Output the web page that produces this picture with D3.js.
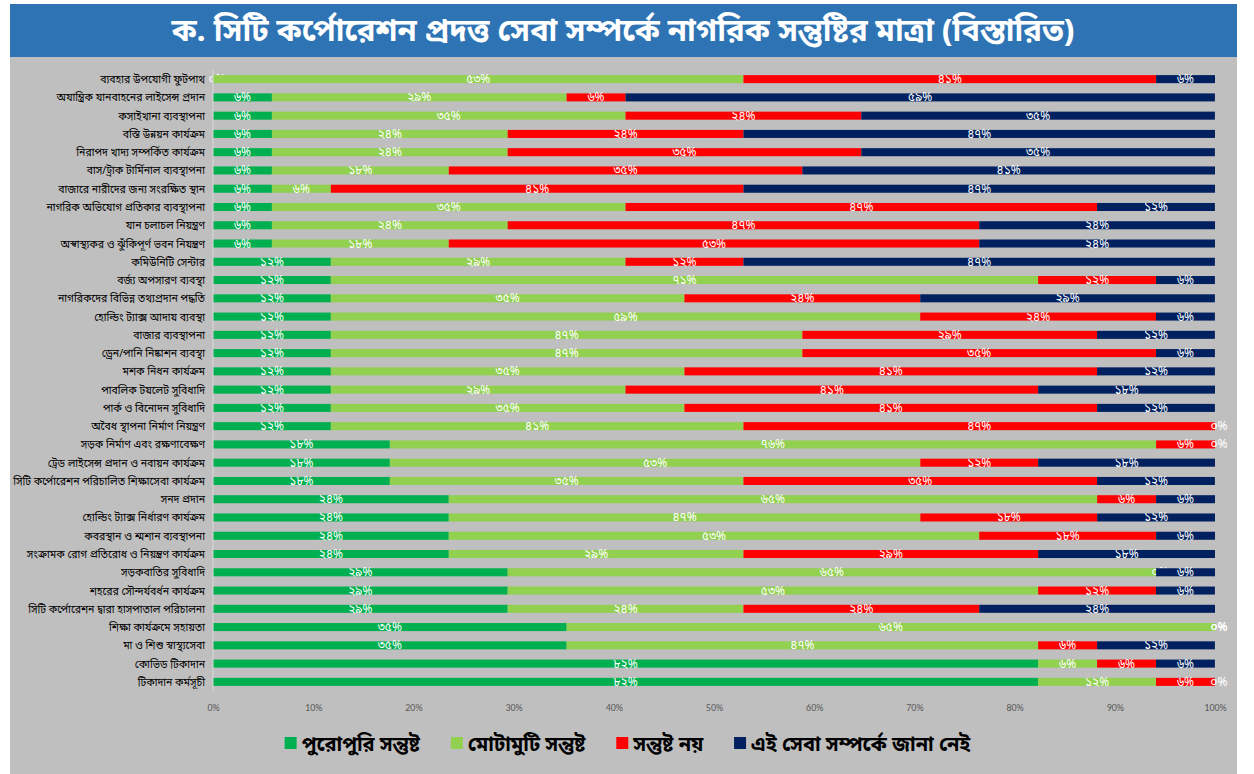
<!DOCTYPE html>
<html>
<head>
<meta charset="utf-8">
<script src="https://cdn.jsdelivr.net/npm/d3@7"></script>
<style>
  body { margin: 0; background: #ffffff; }
  svg text { font-family: "Noto Sans Bengali", "Lohit Bengali", "Vrinda", "Nirmala UI", "Noto Sans", sans-serif; }
</style>
</head>
<body>
<div id="chart"></div>
<script>
// সেবার নাম (উপর থেকে নিচে)
const categories = [
  "ব্যবহার উপযোগী ফুটপাথ",
  "অযান্ত্রিক যানবাহনের লাইসেন্স প্রদান",
  "কসাইখানা ব্যবস্থাপনা",
  "বস্তি উন্নয়ন কার্যক্রম",
  "নিরাপদ খাদ্য সম্পর্কিত কার্যক্রম",
  "বাস/ট্রাক টার্মিনাল ব্যবস্থাপনা",
  "বাজারে নারীদের জন্য সংরক্ষিত স্থান",
  "নাগরিক অভিযোগ প্রতিকার ব্যবস্থাপনা",
  "যান চলাচল নিয়ন্ত্রণ",
  "অস্বাস্থ্যকর ও ঝুঁকিপূর্ণ ভবন নিয়ন্ত্রণ",
  "কমিউনিটি সেন্টার",
  "বর্জ্য অপসারণ ব্যবস্থা",
  "নাগরিকদের বিভিন্ন তথ্যপ্রদান পদ্ধতি",
  "হোল্ডিং ট্যাক্স আদায় ব্যবস্থা",
  "বাজার ব্যবস্থাপনা",
  "ড্রেন/পানি নিষ্কাশন ব্যবস্থা",
  "মশক নিধন কার্যক্রম",
  "পাবলিক টয়লেট সুবিধাদি",
  "পার্ক ও বিনোদন সুবিধাদি",
  "অবৈধ স্থাপনা নির্মাণ নিয়ন্ত্রণ",
  "সড়ক নির্মাণ এবং রক্ষণাবেক্ষণ",
  "ট্রেড লাইসেন্স প্রদান ও নবায়ন কার্যক্রম",
  "সিটি কর্পোরেশন পরিচালিত শিক্ষাসেবা কার্যক্রম",
  "সনদ প্রদান",
  "হোল্ডিং ট্যাক্স নির্ধারণ কার্যক্রম",
  "কবরস্থান ও শ্মশান ব্যবস্থাপনা",
  "সংক্রামক রোগ প্রতিরোধ ও নিয়ন্ত্রণ কার্যক্রম",
  "সড়কবাতির সুবিধাদি",
  "শহরের সৌন্দর্যবর্ধন কার্যক্রম",
  "সিটি কর্পোরেশন দ্বারা হাসপাতাল পরিচালনা",
  "শিক্ষা কার্যক্রমে সহায়তা",
  "মা ও শিশু স্বাস্থ্যসেবা",
  "কোভিড টিকাদান",
  "টিকাদান কর্মসূচী"
];

// সিরিজের নাম
const seriesNames = ["পুরোপুরি সন্তুষ্ট", "মোটামুটি সন্তুষ্ট", "সন্তুষ্ট নয়", "এই সেবা সম্পর্কে জানা নেই"];

// শতাংশ মান
const fullySatisfied = [0, 5.88, 5.88, 5.88, 5.88, 5.88, 5.88, 5.88, 5.88, 5.88,
  11.76, 11.76, 11.76, 11.76, 11.76, 11.76, 11.76, 11.76, 11.76, 11.76,
  17.65, 17.65, 17.65, 23.53, 23.53, 23.53, 23.53, 29.41, 29.41, 29.41,
  35.29, 35.29, 82.35, 82.35];
const mostlySatisfied = [52.94, 29.41, 35.29, 23.53, 23.53, 17.65, 5.88, 35.29, 23.53, 17.65,
  29.41, 70.59, 35.29, 58.82, 47.06, 47.06, 35.29, 29.41, 35.29, 41.18,
  76.47, 52.94, 35.29, 64.71, 47.06, 52.94, 29.41, 64.71, 52.94, 23.53,
  64.71, 47.06, 5.88, 11.76];
const notSatisfied = [41.18, 5.88, 23.53, 23.53, 35.29, 35.29, 41.18, 47.06, 47.06, 52.94,
  11.76, 11.76, 23.53, 23.53, 29.41, 35.29, 41.18, 41.18, 41.18, 47.06,
  5.88, 11.76, 35.29, 5.88, 17.65, 17.65, 29.41, 0, 11.76, 23.53,
  0, 5.88, 5.88, 5.88];
const notAware = [5.88, 58.82, 35.29, 47.06, 35.29, 41.18, 47.06, 11.76, 23.53, 23.53,
  47.06, 5.88, 29.41, 5.88, 11.76, 5.88, 11.76, 17.65, 11.76, 0,
  0, 17.65, 11.76, 5.88, 11.76, 5.88, 17.65, 5.88, 5.88, 23.53,
  0, 11.76, 5.88, 0];

const tickValues = [0, 10, 20, 30, 40, 50, 60, 70, 80, 90, 100];
const colors = ["#00b050", "#92d050", "#ff0000", "#002060"];
const titleText = "ক. সিটি কর্পোরেশন প্রদত্ত সেবা সম্পর্কে নাগরিক সন্তুষ্টির মাত্রা (বিস্তারিত)";

const W = 1254, H = 774;
const keys = ["s0", "s1", "s2", "s3"];
const rows = categories.map((c, i) => ({
  cat: c, s0: fullySatisfied[i], s1: mostlySatisfied[i], s2: notSatisfied[i], s3: notAware[i]
}));

const bnDigits = "০১২৩৪৫৬৭৮৯";
const toBn = n => String(n).replace(/\d/g, d => bnDigits[+d]);

const svg = d3.select("#chart").append("svg")
  .attr("width", W).attr("height", H);

// পটভূমি
svg.append("rect").attr("x", 10).attr("y", 4).attr("width", 1227).attr("height", H - 4)
  .attr("fill", "#bfbfbf");
svg.append("rect").attr("x", 10).attr("y", 4).attr("width", 1227).attr("height", 53)
  .attr("fill", "#2e74b5");
svg.append("text")
  .attr("x", 623).attr("y", 41)
  .attr("text-anchor", "middle")
  .style("font-size", "31px").style("font-weight", "bold").style("fill", "#fff")
  .text(titleText);

const x = d3.scaleLinear().domain([0, 100]).range([213, 1215]);
const y = d3.scaleBand().domain(categories).range([70, 691]).paddingInner(0.56).paddingOuter(0.28);

const stacked = d3.stack().keys(keys)(rows);

const layer = svg.selectAll(".layer")
  .data(stacked).enter().append("g")
  .attr("class", "layer")
  .attr("fill", (d, i) => colors[i]);

layer.selectAll("rect")
  .data(d => d)
  .enter().append("rect")
  .attr("x", d => x(d[0]))
  .attr("y", d => y(d.data.cat))
  .attr("width", d => x(d[1]) - x(d[0]))
  .attr("height", y.bandwidth());

// ডাটা লেবেল
layer.selectAll(".lbl")
  .data(d => d)
  .enter().append("text")
  .attr("class", "lbl")
  .attr("x", d => (x(d[0]) + x(d[1])) / 2 + (d[1] - d[0] === 0 ? 4 : 0))
  .attr("y", d => y(d.data.cat) + y.bandwidth() / 2 + 4)
  .attr("text-anchor", "middle")
  .style("font-size", "12px").style("fill", "#fff")
  .text(d => toBn(Math.round(d[1] - d[0])) + "%");

// অক্ষ রেখা
svg.append("line")
  .attr("x1", x(0)).attr("x2", x(0))
  .attr("y1", 70).attr("y2", 691)
  .attr("stroke", "#d9d9d9").attr("stroke-width", 1);

// ক্যাটাগরি লেবেল
svg.selectAll(".cat")
  .data(categories).enter().append("text")
  .attr("class", "cat")
  .attr("x", 205)
  .attr("y", d => y(d) + y.bandwidth() / 2 + 4)
  .attr("text-anchor", "end")
  .style("font-size", "10.5px").style("fill", "#000")
  .text(d => d);

// X অক্ষ
const xAxis = svg.append("g")
  .attr("transform", "translate(0,701)")
  .call(d3.axisBottom(x).tickValues(tickValues).tickFormat(d => d + "%").tickSize(0));
xAxis.select(".domain").remove();
xAxis.selectAll("text")
  .style("font-size", "10px").style("fill", "#595959")
  .style("font-family", "Calibri, Carlito, 'Liberation Sans', sans-serif");

// লেজেন্ড
const legend = svg.append("g").attr("transform", "translate(0,744)");
const items = legend.selectAll(".item").data(seriesNames).enter().append("g").attr("class", "item");
items.append("rect").attr("width", 12).attr("height", 12).attr("y", -7)
  .attr("fill", (d, i) => colors[i]);
items.append("text").attr("x", 17).attr("y", 7)
  .style("font-size", "20px").style("font-weight", "bold").style("fill", "#000")
  .text(d => d);
let widths = [];
items.each(function () { widths.push(this.getBBox().width); });
const gap = 30;
const total = d3.sum(widths) + gap * (widths.length - 1);
let cx = 628 - total / 2;
items.attr("transform", (d, i) => {
  const t = `translate(${cx},0)`;
  cx += widths[i] + gap;
  return t;
});
</script>
</body>
</html>
